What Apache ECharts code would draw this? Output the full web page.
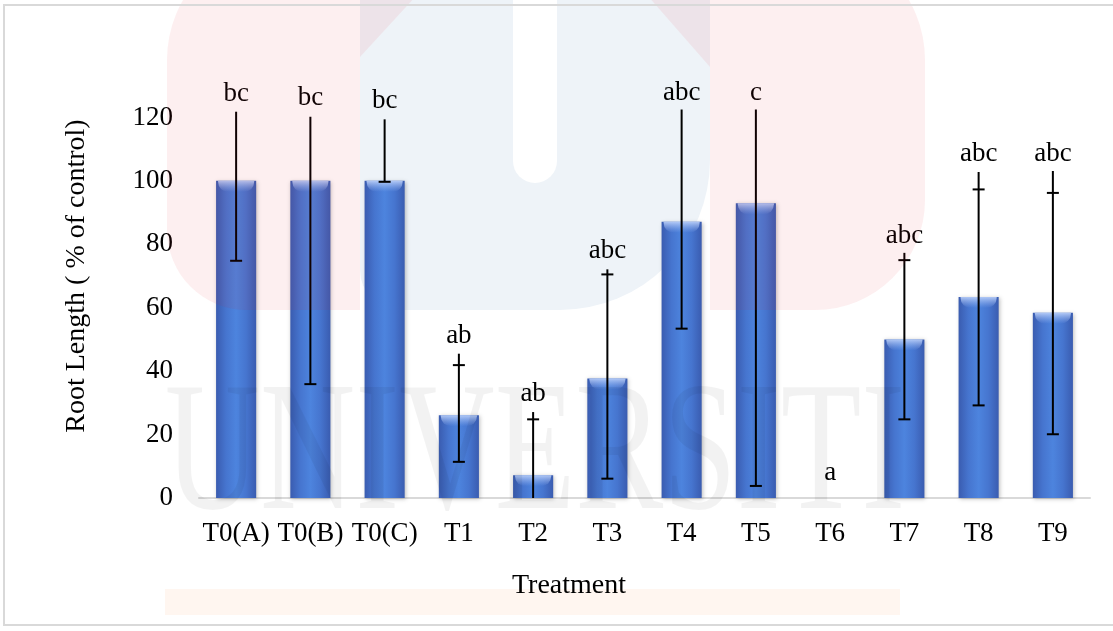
<!DOCTYPE html>
<html>
<head>
<meta charset="utf-8">
<script src="https://cdn.jsdelivr.net/npm/echarts@6/dist/echarts.min.js"></script>
<style>html,body{margin:0;padding:0;background:#fff;}#c{width:1113px;height:631px;}</style>
</head>
<body>
<div id="c"></div>
<script>
const categories = ['T0(A)','T0(B)','T0(C)','T1','T2','T3','T4','T5','T6','T7','T8','T9'];
const means      = [100, 100, 100, 26.1, 7.2, 37.7, 87.1, 92.9, 0, 50.0, 63.4, 58.4];
const errLow     = [74.8, 35.9, 99.7, 11.4, 0, 6.1, 53.4, 3.8, null, 24.8, 29.2, 20.1];
const errHigh    = [121.8, 120.2, 119.4, 45.5, 27.1, 72.1, 122.5, 122.5, null, 77.3, 102.8, 103.1];
const errCapHigh = [null, null, null, 41.9, 24.8, 70.5, null, null, null, 75.0, 97.3, 96.2];
const capLow     = [true, true, true, true, false, true, true, true, false, true, true, true];
const letters    = ['bc','bc','bc','ab','ab','abc','abc','c','a','abc','abc','abc'];
const letterAt   = [124.9, 123.9, 122.8, 48.7, 30.3, 75.5, 125.5, 125.5, 5.6, 80.3, 106.0, 106.0];
const yTicks     = [0, 20, 40, 60, 80, 100, 120];

const FONT = 'Liberation Serif';
const RED = 'rgba(225,30,40,0.07)';
const chart = echarts.init(document.getElementById('c'), null, {renderer: 'canvas'});

const barGrad = new echarts.graphic.LinearGradient(0, 0, 1, 0, [
  {offset: 0, color: '#3a5cb0'},
  {offset: 0.25, color: '#4675cf'},
  {offset: 0.5, color: '#4d84de'},
  {offset: 0.75, color: '#4675cf'},
  {offset: 1, color: '#3a5cb0'}
]);

const option = {
  backgroundColor: '#fff',
  animation: false,
  grid: {left: 199, right: 23, top: 54, bottom: 133, containLabel: false},
  xAxis: {
    type: 'category',
    data: categories,
    axisLine: {show: true, lineStyle: {color: '#d9d9d9', width: 2}},
    axisTick: {show: false},
    axisLabel: {color: '#000', fontFamily: FONT, fontSize: 27, margin: 22, interval: 0}
  },
  yAxis: {
    type: 'value',
    min: 0, max: 140, interval: 20,
    name: 'Root Length ( % of control)',
    nameLocation: 'middle',
    nameGap: 108,
    nameTextStyle: {color: '#000', fontFamily: FONT, fontSize: 28},
    axisLine: {show: false},
    axisTick: {show: false},
    splitLine: {show: false},
    axisLabel: {
      color: '#000', fontFamily: FONT, fontSize: 27, margin: 26,
      formatter: v => (yTicks.indexOf(v) >= 0 ? String(v) : '')
    }
  },
  graphic: [
    {type: 'rect', z: -10, silent: true, shape: {x: 165, y: 589, width: 735, height: 26}, style: {fill: 'rgba(250,160,90,0.09)'}},
    {type: 'rect', z: -10, silent: true, shape: {x: 360, y: -50, width: 350, height: 360, r: [0, 0, 150, 40]}, style: {fill: '#eef3f8'}},
    {type: 'rect', z: -9, silent: true, shape: {x: 513, y: -20, width: 44, height: 203, r: [0, 0, 22, 22]}, style: {fill: '#ffffff'}},
    {type: 'rect', z: 100, silent: true, shape: {x: 167, y: -60, width: 193, height: 370, r: [120, 0, 0, 80]}, style: {fill: RED}},
    {type: 'polygon', z: 100, silent: true, shape: {points: [[360, -5], [417, -5], [360, 57]]}, style: {fill: RED}},
    {type: 'rect', z: 100, silent: true, shape: {x: 710, y: -60, width: 215, height: 370, r: [0, 120, 110, 0]}, style: {fill: RED}},
    {type: 'polygon', z: 100, silent: true, shape: {points: [[647, -5], [710, -5], [710, 67]]}, style: {fill: RED}},
    {type: 'text', z: 100, silent: true, x: 535, y: 459, scaleY: 1.4, originX: 0, originY: 0,
      style: {text: 'UNIVERSITI', font: '132px "Liberation Serif"', align: 'center', verticalAlign: 'middle', fill: 'rgba(0,0,0,0.05)'}},
    {type: 'rect', z: 101, silent: true, shape: {x: 4, y: 5, width: 1200, height: 620}, style: {fill: 'none', stroke: '#d9d9d9', lineWidth: 2}},
    {type: 'text', z: 102, silent: true, x: 569, y: 586,
      style: {text: 'Treatment', font: '28px "Liberation Serif"', align: 'center', verticalAlign: 'middle', fill: '#000'}}
  ],
  series: [
    {
      type: 'bar',
      data: means,
      barWidth: '54%',
      itemStyle: {color: barGrad, shadowColor: 'rgba(0,0,0,0.25)', shadowBlur: 4, shadowOffsetX: 1, shadowOffsetY: 1}
    },
    {
      type: 'custom',
      data: categories.map((c, i) => i),
      clip: false,
      z: 5,
      renderItem: function (params, api) {
        const i = params.dataIndex;
        const x = api.coord([i, 0])[0];
        const base = api.coord([i, 0])[1];
        const bw = api.size([1, 0])[0] * 0.54;
        const children = [];
        const m = means[i];
        if (m > 0) {
          const top = api.coord([i, m])[1];
          children.push({
            type: 'rect',
            shape: {x: x - bw / 2 + 2, y: top, width: bw - 4, height: Math.min(11, base - top), r: [0, 0, 10, 10]},
            style: {fill: new echarts.graphic.LinearGradient(0, 0, 0, 1, [
              {offset: 0, color: 'rgba(190,210,250,0.9)'},
              {offset: 1, color: 'rgba(150,180,240,0.0)'}
            ])}
          });
        }
        if (errHigh[i] != null) {
          const yl = api.coord([i, errLow[i]])[1];
          const yh = api.coord([i, errHigh[i]])[1];
          children.push({type: 'line', shape: {x1: x, y1: yl, x2: x, y2: yh}, style: {stroke: '#000', lineWidth: 2}});
          if (capLow[i]) {
            children.push({type: 'line', shape: {x1: x - 6, y1: yl, x2: x + 6, y2: yl}, style: {stroke: '#000', lineWidth: 2}});
          }
          if (errCapHigh[i] != null) {
            const yc = api.coord([i, errCapHigh[i]])[1];
            children.push({type: 'line', shape: {x1: x - 6, y1: yc, x2: x + 6, y2: yc}, style: {stroke: '#000', lineWidth: 2}});
          }
        }
        const ly = api.coord([i, letterAt[i]])[1];
        children.push({
          type: 'text',
          x: x, y: ly + 6,
          style: {text: letters[i], font: '27px "Liberation Serif"', align: 'center', verticalAlign: 'bottom', fill: '#000'}
        });
        return {type: 'group', children: children};
      }
    }
  ]
};
chart.setOption(option);
</script>
</body>
</html>
